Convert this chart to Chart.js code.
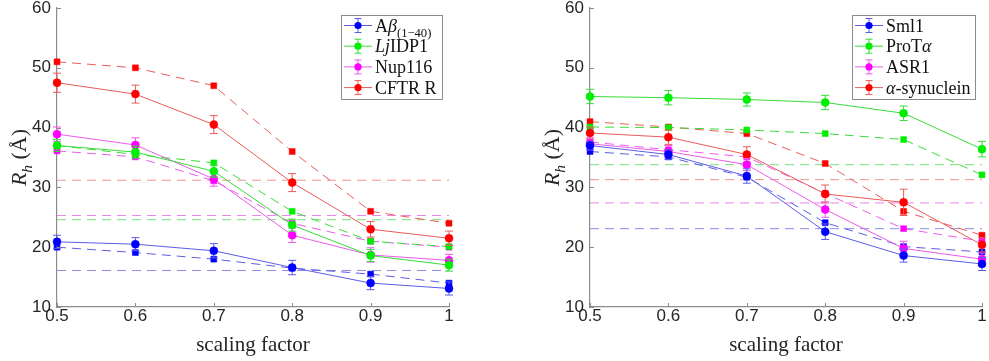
<!DOCTYPE html>
<html>
<head>
<meta charset="utf-8">
<script src="https://cdn.jsdelivr.net/npm/chart.js@4.4.0/dist/chart.umd.min.js"></script>
<style>
html, body { margin: 0; padding: 0; background: #fff; }
#wrap { position: relative; width: 989px; height: 361px; }
.panel { position: absolute; top: 0; }
#left { left: 0; }
#right { left: 494px; }
</style>
</head>
<body>
<div id="wrap">
  <div class="panel" id="left"><canvas id="cLeft" width="494" height="361"></canvas></div>
  <div class="panel" id="right"><canvas id="cRight" width="495" height="361"></canvas></div>
</div>
<script>
// ======================================
// DATA
// ======================================

const scaling = [0.5, 0.6, 0.7, 0.8, 0.9, 1];
const rhTicks = [10, 20, 30, 40, 50, 60];

// left panel
const abetaRh  = [20.9, 20.5, 19.4, 16.6, 14.0, 13.1];
const abetaErr = [1.1, 1.1, 1.2, 1.2, 1.1, 1.1];
const abetaAlt = [20.0, 19.1, 18.0, 16.5, 15.5, 14.0];
const abetaExp = 16.1;

const ljRh  = [37.0, 35.9, 32.7, 23.7, 18.6, 17.0];
const ljErr = [1.0, 1.0, 1.0, 1.0, 1.0, 1.0];
const ljAlt = [37.0, 35.5, 34.1, 26.0, 21.0, 20.1];
const ljExp = 24.6;

const nupRh  = [38.9, 37.1, 31.4, 22.0, 18.7, 17.8];
const nupErr = [1.2, 1.2, 1.2, 1.2, 1.2, 1.0];
const nupAlt = [36.1, 35.1, 31.1, 24.0, 21.0, 20.0];
const nupExp = 25.3;

const cftrRh  = [47.5, 45.6, 40.5, 30.8, 23.0, 21.5];
const cftrErr = [1.6, 1.5, 1.5, 1.5, 1.3, 1.2];
const cftrAlt = [51.0, 50.0, 47.0, 36.0, 26.0, 24.0];
const cftrExp = 31.2;

// right panel
const sml1Rh  = [37.0, 35.5, 31.9, 22.6, 18.6, 17.2];
const sml1Err = [0.7, 0.8, 1.2, 1.3, 1.1, 1.1];
const sml1Alt = [36.0, 35.1, 31.7, 24.1, 20.1, 19.2];
const sml1Exp = 23.1;

const protaRh  = [45.2, 45.0, 44.7, 44.2, 42.4, 36.4];
const protaErr = [1.2, 1.2, 1.1, 1.2, 1.2, 1.3];
const protaAlt = [40.1, 40.0, 39.6, 39.0, 38.0, 32.1];
const protaExp = 33.8;

const asr1Rh  = [37.3, 36.0, 33.8, 26.3, 19.8, 18.0];
const asr1Err = [1.0, 1.0, 1.0, 1.3, 1.2, 1.0];
const asr1Alt = [37.6, 36.3, 35.1, 29.0, 23.1, 21.0];
const asr1Exp = 27.4;

const asynRh  = [39.1, 38.4, 35.5, 28.9, 27.5, 20.4];
const asynErr = [1.0, 1.2, 1.3, 1.5, 2.2, 1.2];
const asynAlt = [41.0, 40.1, 39.0, 34.0, 26.0, 22.0];
const asynExp = 31.3;

// ======================================
// STYLE
// ======================================

const palette = {
  blue:    { mark: "#0000ff", line: "#5c5ce6", ref: "#8e8ee8" },
  green:   { mark: "#00ee00", line: "#38dc38", ref: "#78e078" },
  magenta: { mark: "#ff00ff", line: "#ec5aec", ref: "#e888e8" },
  red:     { mark: "#ff0000", line: "#ec5a5a", ref: "#f09494" }
};

const SERIF = '"Liberation Serif", "Times New Roman", serif';
const SANS = '"Liberation Sans", Arial, sans-serif';
const AXIS = "#8c8c8c";
const TEXT = "#262626";

const leftSeries = [
  { label: [{ t: "A" }, { t: "β", i: 1 }, { t: "(1−40)", s: 1 }], color: "blue", rh: abetaRh, err: abetaErr, alt: abetaAlt, exp: abetaExp },
  { label: [{ t: "Lj", i: 1 }, { t: "IDP1" }], color: "green", rh: ljRh, err: ljErr, alt: ljAlt, exp: ljExp },
  { label: [{ t: "Nup116" }], color: "magenta", rh: nupRh, err: nupErr, alt: nupAlt, exp: nupExp },
  { label: [{ t: "CFTR R" }], color: "red", rh: cftrRh, err: cftrErr, alt: cftrAlt, exp: cftrExp }
];

const rightSeries = [
  { label: [{ t: "Sml1" }], color: "blue", rh: sml1Rh, err: sml1Err, alt: sml1Alt, exp: sml1Exp },
  { label: [{ t: "ProT" }, { t: "α", i: 1 }], color: "green", rh: protaRh, err: protaErr, alt: protaAlt, exp: protaExp },
  { label: [{ t: "ASR1" }], color: "magenta", rh: asr1Rh, err: asr1Err, alt: asr1Alt, exp: asr1Exp },
  { label: [{ t: "α", i: 1 }, { t: "-synuclein" }], color: "red", rh: asynRh, err: asynErr, alt: asynAlt, exp: asynExp }
];

// ======================================
// HELPERS
// ======================================

// draws (or only measures) a run of text parts: italic / subscript
function rich(ctx, parts, x, y, size, draw) {
  parts.forEach(p => {
    const fs = p.s ? size * 0.7 : size;
    ctx.font = (p.i ? "italic " : "") + fs + "px " + SERIF;
    if (draw) ctx.fillText(p.t, x, p.s ? y + size * 0.28 : y);
    x += ctx.measureText(p.t).width;
  });
  return x;
}

function panelPlugin(series) {
  return {
    id: "panel",

    beforeDatasetDraw(chart, args) {
      const ds = chart.data.datasets[args.index];
      if (!ds.errors) return;
      const { ctx, scales: { x, y } } = chart;
      ctx.save();
      ctx.strokeStyle = ds.borderColor;
      ctx.lineWidth = 1;
      ds.data.forEach((p, j) => {
        const px = x.getPixelForValue(p.x);
        const y1 = y.getPixelForValue(p.y + ds.errors[j]);
        const y2 = y.getPixelForValue(p.y - ds.errors[j]);
        ctx.beginPath();
        ctx.moveTo(px, y1); ctx.lineTo(px, y2);
        ctx.moveTo(px - 4, y1); ctx.lineTo(px + 4, y1);
        ctx.moveTo(px - 4, y2); ctx.lineTo(px + 4, y2);
        ctx.stroke();
      });
      ctx.restore();
    },

    afterDraw(chart) {
      const { ctx, chartArea: a, scales: { x, y } } = chart;
      ctx.save();

      // inward tick marks
      ctx.strokeStyle = AXIS;
      ctx.lineWidth = 1;
      ctx.beginPath();
      x.ticks.forEach(t => {
        const px = Math.round(x.getPixelForValue(t.value)) + 0.5;
        ctx.moveTo(px, a.bottom); ctx.lineTo(px, a.bottom - 4);
      });
      y.ticks.forEach(t => {
        const py = Math.round(y.getPixelForValue(t.value)) + 0.5;
        ctx.moveTo(a.left, py); ctx.lineTo(a.left + 4, py);
      });
      ctx.stroke();

      // x title
      ctx.fillStyle = TEXT;
      ctx.textAlign = "center";
      ctx.textBaseline = "alphabetic";
      ctx.font = "21px " + SERIF;
      ctx.fillText("scaling factor", (a.left + a.right) / 2, 351);

      // y title
      ctx.save();
      ctx.translate(a.left - 38, (a.top + a.bottom) / 2);
      ctx.rotate(-Math.PI / 2);
      ctx.textAlign = "left";
      const yParts = [{ t: "R", i: 1 }, { t: "h", i: 1, s: 1 }, { t: " (Å)" }];
      const w = rich(ctx, yParts, 0, 0, 22, false);
      rich(ctx, yParts, -w / 2, 7, 22, true);
      ctx.restore();

      // legend
      const fs = 18;
      ctx.textAlign = "left";
      const widths = series.map(s => rich(ctx, s.label, 0, 0, fs, false));
      const bw = Math.round(34 + Math.max(...widths) + 5);
      const bh = 84;
      const bx = Math.round(a.right - 7 - bw);
      const by = 15;
      ctx.fillStyle = "#fff";
      ctx.fillRect(bx, by, bw, bh);
      ctx.strokeStyle = AXIS;
      ctx.strokeRect(bx + 0.5, by + 0.5, bw, bh);

      series.forEach((s, i) => {
        const c = palette[s.color];
        const cy = by + 10.5 + i * 20.7;
        const mx = bx + 17;
        ctx.strokeStyle = c.line;
        ctx.beginPath();
        ctx.moveTo(bx + 3, cy); ctx.lineTo(bx + 31, cy);
        ctx.moveTo(mx, cy - 7); ctx.lineTo(mx, cy + 7);
        ctx.moveTo(mx - 3.5, cy - 7); ctx.lineTo(mx + 3.5, cy - 7);
        ctx.moveTo(mx - 3.5, cy + 7); ctx.lineTo(mx + 3.5, cy + 7);
        ctx.stroke();
        ctx.fillStyle = c.mark;
        ctx.beginPath();
        ctx.arc(mx, cy, 3.6, 0, Math.PI * 2);
        ctx.fill();
        ctx.fillStyle = "#111";
        rich(ctx, s.label, bx + 34, cy + 6, fs, true);
      });

      ctx.restore();
    }
  };
}

// ======================================
// CHARTS
// ======================================

function makeChart(id, series, padLeft, padRight) {
  const datasets = [];
  series.forEach(s => {
    const c = palette[s.color];
    datasets.push({
      data: scaling.map((x, i) => ({ x: x, y: s.rh[i] })),
      errors: s.err,
      borderColor: c.line,
      borderWidth: 1,
      pointStyle: "circle",
      pointRadius: 4,
      pointBackgroundColor: c.mark,
      pointBorderColor: c.mark,
      pointBorderWidth: 0.5,
      clip: false,
      order: 0
    });
    datasets.push({
      data: scaling.map((x, i) => ({ x: x, y: s.alt[i] })),
      borderColor: c.line,
      borderWidth: 1,
      borderDash: [9, 6],
      pointStyle: "rect",
      pointRadius: 4.2,
      pointBackgroundColor: c.mark,
      pointBorderColor: c.mark,
      pointBorderWidth: 0.5,
      clip: false,
      order: 1
    });
    datasets.push({
      data: scaling.map(x => ({ x: x, y: s.exp })),
      borderColor: c.ref,
      borderWidth: 1,
      borderDash: [9, 6],
      pointRadius: 0,
      order: 2
    });
  });

  return new Chart(document.getElementById(id), {
    type: "line",
    data: { datasets: datasets },
    options: {
      responsive: false,
      animation: false,
      events: [],
      layout: { padding: { top: 8, right: padRight, bottom: 0, left: padLeft } },
      plugins: { legend: { display: false }, tooltip: { enabled: false } },
      scales: {
        x: {
          type: "linear",
          min: scaling[0],
          max: scaling[scaling.length - 1],
          ticks: {
            stepSize: 0.1,
            padding: -1,
            color: TEXT,
            font: { family: SANS, size: 17 },
            callback: v => String(+v.toFixed(1))
          },
          grid: { display: false, drawTicks: false },
          border: { display: true, color: AXIS, width: 1.2 },
          afterFit: s => { s.height = 54; s.paddingLeft = 0; s.paddingRight = 0; }
        },
        y: {
          type: "linear",
          min: rhTicks[0],
          max: rhTicks[rhTicks.length - 1],
          ticks: {
            stepSize: rhTicks[1] - rhTicks[0],
            padding: 6,
            color: TEXT,
            font: { family: SANS, size: 17 }
          },
          grid: { display: false, drawTicks: false },
          border: { display: true, color: AXIS, width: 1.2 },
          afterFit: s => { s.width = 57; s.paddingTop = 0; s.paddingBottom = 0; }
        }
      }
    },
    plugins: [panelPlugin(series)]
  });
}

makeChart("cLeft", leftSeries, 0, 45);
makeChart("cRight", rightSeries, 39, 7);
</script>
</body>
</html>
